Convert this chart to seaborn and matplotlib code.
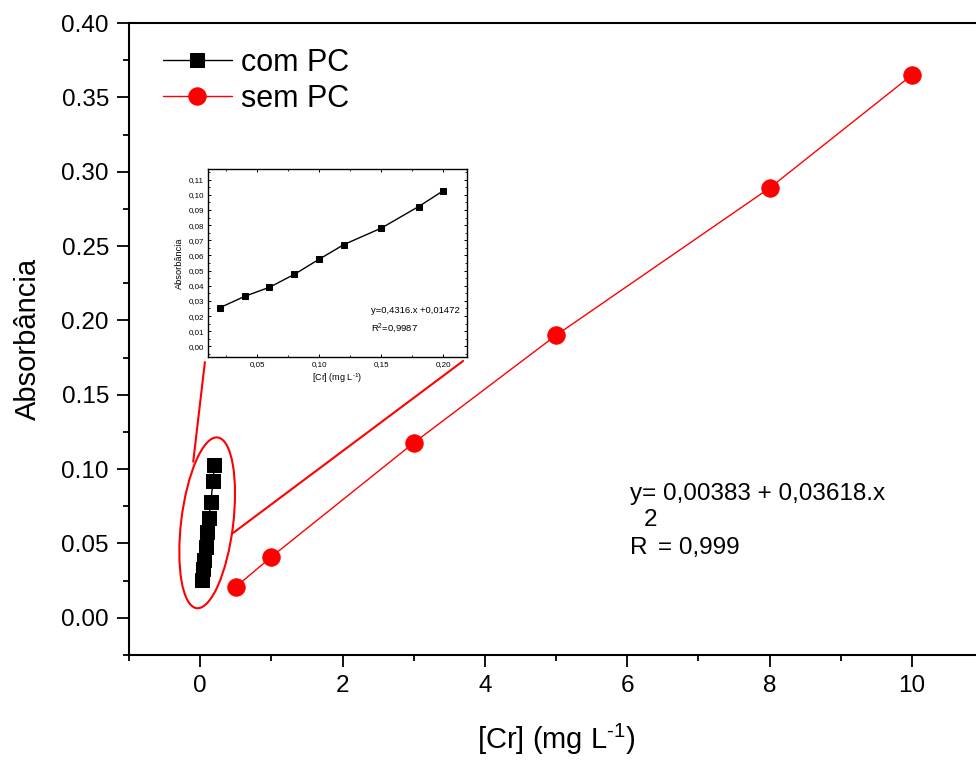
import numpy as np
import pandas as pd
import matplotlib
matplotlib.use("Agg")
import matplotlib.pyplot as plt
import matplotlib.transforms as mtransforms
from matplotlib.patches import Ellipse, ConnectionPatch
from matplotlib.ticker import MultipleLocator, FuncFormatter
import seaborn as sns

# Calibration data: chromium concentration (mg/L) vs absorbance
conc_com_pc = [0.02, 0.04, 0.06, 0.08, 0.10, 0.12, 0.15, 0.18, 0.20]
abs_com_pc = [0.0255, 0.0330, 0.0390, 0.0475, 0.0575, 0.0672, 0.0780, 0.0922, 0.1027]

conc_sem_pc = [0.5, 1.0, 3.0, 5.0, 8.0, 10.0]
abs_sem_pc = [0.0208, 0.0410, 0.1176, 0.1900, 0.2890, 0.3650]

label_com = "com PC"
label_sem = "sem PC"
eq_sem = "y= 0,00383 + 0,03618.x"
r2_sem = "0,999"
eq_com = "y=0,4316.x +0,01472"
r2_com = "0,9987"

sns.set_style("ticks")
plt.rcParams["font.family"] = ["Liberation Sans", "DejaVu Sans"]
plt.rcParams["mathtext.fontset"] = "custom"
plt.rcParams["mathtext.rm"] = "Liberation Sans"
for key in ["text.color", "axes.labelcolor", "xtick.color", "ytick.color", "axes.edgecolor"]:
    plt.rcParams[key] = "black"

df_com = pd.DataFrame({"conc": conc_com_pc, "abs": abs_com_pc})
df_sem = pd.DataFrame({"conc": conc_sem_pc, "abs": abs_sem_pc})

fig = plt.figure(figsize=(9.76, 7.62), dpi=100)
ax = fig.add_axes([0.1322, 0.1404, 0.875, 0.8294])

sns.lineplot(data=df_com, x="conc", y="abs", ax=ax, color="black", lw=1.0,
             marker="s", markersize=10, markeredgecolor="black",
             sort=False, label=label_com, zorder=3)
sns.lineplot(data=df_sem, x="conc", y="abs", ax=ax, color="red", lw=1.0,
             marker="o", markersize=12.5, markeredgecolor="red",
             sort=False, label=label_sem, zorder=3)

ax.set_xlim(-1, 11)
ax.set_ylim(-0.025, 0.40)
ax.xaxis.set_major_locator(MultipleLocator(2))
ax.xaxis.set_minor_locator(MultipleLocator(1))
ax.yaxis.set_major_locator(MultipleLocator(0.05))
ax.yaxis.set_minor_locator(MultipleLocator(0.025))
ax.yaxis.set_major_formatter(FuncFormatter(lambda v, p: f"{v:.2f}"))
ax.tick_params(which="major", direction="out", length=8.5, width=1.3, labelsize=17.5, pad=6)
ax.tick_params(which="minor", direction="out", length=4.5, width=1.3)
for s in ax.spines.values():
    s.set_linewidth(1.5)
ax.set_xlabel(r"[Cr] (mg L$^{\text{-1}}$)", fontsize=21, labelpad=18)
ax.set_ylabel("Absorbância", fontsize=21, labelpad=14)

leg = ax.legend(loc="upper left", bbox_to_anchor=((163 - 129) / 854, (655 - 48) / 632),
                frameon=False, fontsize=22, handlelength=2.25, handletextpad=0.3,
                labelspacing=0.2, borderpad=0, borderaxespad=0)

# Regression text for the curve without PC
ax.text(0.5867, 0.255, eq_sem, transform=ax.transAxes, fontsize=17.5, va="center", ha="left")
ax.text(0.5867, 0.169, "R", transform=ax.transAxes, fontsize=17.5, va="center", ha="left")
ax.text(0.5867 + 14 / 854, 0.169 + 28 / 632, "2", transform=ax.transAxes, fontsize=17.5,
        va="center", ha="left")
ax.text(0.5867 + 28 / 854, 0.169, "= " + r2_sem, transform=ax.transAxes, fontsize=17.5,
        va="center", ha="left")

# Ellipse highlighting the low-concentration points
ell_offset = mtransforms.ScaledTranslation(0.098, 0.0639, ax.transData)
ell = Ellipse((0, 0), width=0.52, height=1.72, angle=-7, fill=False, edgecolor="red",
              lw=1.5, transform=fig.dpi_scale_trans + ell_offset, zorder=4)
ax.add_patch(ell)

# Inset with the com PC curve
ins = fig.add_axes([208 / 976, (762 - 357) / 762, (467 - 208) / 976, (357 - 169) / 762])
sns.lineplot(data=df_com, x="conc", y="abs", ax=ins, color="black", lw=1.0,
             marker="s", markersize=4, markeredgecolor="black", sort=False, legend=False)
ins.set_xlim(0.0105, 0.219)
ins.set_ylim(-0.007, 0.117)
ins.xaxis.set_major_locator(MultipleLocator(0.05))
ins.xaxis.set_minor_locator(MultipleLocator(0.025))
ins.yaxis.set_major_locator(MultipleLocator(0.01))
ins.yaxis.set_minor_locator(MultipleLocator(0.005))
comma = FuncFormatter(lambda v, p: f"{v:.2f}".replace(".", ","))
ins.xaxis.set_major_formatter(comma)
ins.yaxis.set_major_formatter(comma)
ins.tick_params(which="major", direction="in", length=2.5, width=0.7, labelsize=5.8, pad=3,
                top=True, right=True)
ins.tick_params(which="minor", direction="in", length=1.5, width=0.6, top=True, right=True)
for s in ins.spines.values():
    s.set_linewidth(1.0)
ins.set_xlabel(r"[Cr] (mg L$^{\text{-1}}$)", fontsize=6.5, labelpad=2)
ins.set_ylabel("Absorbância", fontsize=6.7, labelpad=3)
ins.text(0.629, 0.245, eq_com, transform=ins.transAxes, fontsize=6.8, va="center", ha="left")
ins.text(0.629, 0.154, "R$^2$=" + r2_com, transform=ins.transAxes, fontsize=6.8,
         va="center", ha="left")

# Connector lines between the ellipse and the inset
for xa, xb in [((-0.012, -0.027), (-0.098, 0.105)), ((0.985, -0.021), (0.463, 0.0571))]:
    con = ConnectionPatch(xyA=xa, coordsA=ins.transAxes, xyB=xb, coordsB=ax.transData,
                          color="red", lw=1.5)
    fig.add_artist(con)

fig.savefig("out.png", dpi=100)
